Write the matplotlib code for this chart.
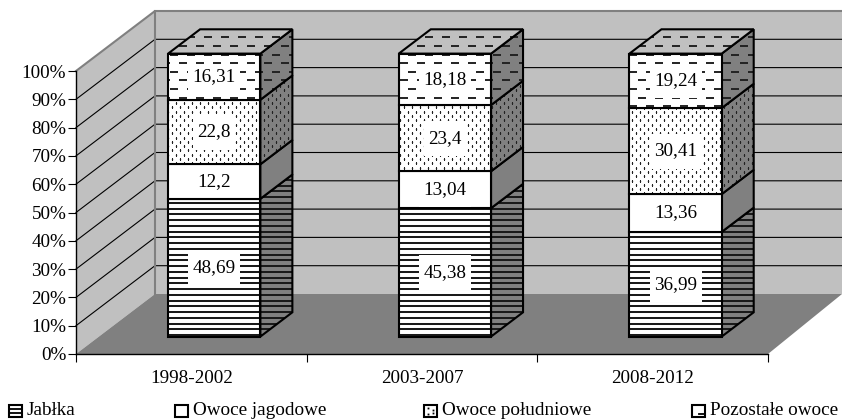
import numpy as np
import matplotlib
matplotlib.use("Agg")
import matplotlib.pyplot as plt
from matplotlib.patches import Polygon, Rectangle
from matplotlib.transforms import Affine2D

periods = ["1998-2002", "2003-2007", "2008-2012"]
series_names = ["Jabłka", "Owoce jagodowe", "Owoce południowe", "Pozostałe owoce"]
jablka = [48.69, 45.38, 36.99]
jagodowe = [12.2, 13.04, 13.36]
poludniowe = [22.8, 23.4, 30.41]
pozostale = [16.31, 18.18, 19.24]
value_text = [["48,69", "45,38", "36,99"], ["12,2", "13,04", "13,36"],
              ["22,8", "23,4", "30,41"], ["16,31", "18,18", "19,24"]]
series = [jablka, jagodowe, poludniowe, pozostale]
patterns = ["lines", "none", "dots", "dashes"]

W, H = 842, 420
plt.rcParams["font.family"] = ["Liberation Serif", "DejaVu Serif"]
FS = 13.8
fig = plt.figure(figsize=(W / 100, H / 100), dpi=100)
ax = fig.add_axes([76 / W, (H - 354) / H, 692 / W, 283 / H])
ax.set_xlim(0, 3)
ax.set_ylim(0, 100)
ax.patch.set_visible(False)
px = Affine2D().scale(1, -1).translate(0, H)

# oblique projection: depth d in 0..1 moves a point up and to the right
DX = 79 / (692 / 3)
DY = 60 / 2.83
DX_RIGHT = 74 / (692 / 3)
BAR_W = 0.4
D0, D1 = 0.29, 0.695
GRID = "#000000"
WALL = "#C0C0C0"
FLOOR = "#808080"


def P(x, y, d=0.0):
    return (x + d * DX, y + d * DY)


# walls and floor
right = (3 + DX_RIGHT, 100 + DY)
ax.add_patch(Polygon([P(0, 0, 1), P(0, 100, 1), right, (3 + DX_RIGHT, DY)], fc=WALL, ec="none",
                     clip_on=False, zorder=0))
ax.add_patch(Polygon([P(0, 0), P(0, 100), P(0, 100, 1), P(0, 0, 1)], fc=WALL, ec="none",
                     clip_on=False, zorder=0))
ax.add_patch(Polygon([P(0, 0), (3, 0), (3 + DX_RIGHT, DY), P(0, 0, 1)], fc=FLOOR, ec="none",
                     clip_on=False, zorder=0.5))
for g in range(10, 100, 10):
    xs = [0, DX, 3 + DX_RIGHT]
    ys = [g, g + DY, g + DY]
    ax.plot(xs, ys, color=GRID, lw=0.8, clip_on=False, zorder=1)
ax.plot([0, DX, DX], [100, 100 + DY, DY], color="#808080", lw=1.5, clip_on=False, zorder=1.2)
ax.plot([DX, 3 + DX_RIGHT], [100 + DY, 100 + DY], color="#808080", lw=1.5, clip_on=False, zorder=1.2)


def hatch(poly, kind, z):
    """Screen-anchored fill pattern clipped to a face."""
    pts = ax.transData.transform(poly.get_xy())
    pts[:, 1] = H - pts[:, 1]
    x0, x1 = pts[:, 0].min(), pts[:, 0].max()
    y0, y1 = pts[:, 1].min(), pts[:, 1].max()
    arts = []
    if kind == "lines":
        for y in np.arange(np.floor(y0 / 5.75) * 5.75 + 1.5, y1 + 1, 5.75):
            arts += ax.plot([x0, x1], [y, y], color="#1a1a1a", lw=1.45, transform=px, zorder=z,
                            solid_capstyle="butt")
    elif kind == "dashes":
        for y in np.arange(np.floor(y0 / 8.6) * 8.6 + 3, y1 + 1, 8.6):
            row = int(round((y - 3) / 8.6))
            start = np.floor(x0 / 17) * 17 - (8.5 if row % 2 else 0)
            for x in np.arange(start, x1 + 1, 17):
                arts += ax.plot([x, x + 8], [y, y], color="#222222", lw=1.4, transform=px, zorder=z,
                                solid_capstyle="butt")
    elif kind == "dots":
        xs, ys = [], []
        for y in np.arange(np.floor(y0 / 4.3) * 4.3, y1 + 1, 4.3):
            row = int(round(y / 4.3))
            start = np.floor(x0 / 8) * 8 - (4 if row % 2 else 0)
            for x in np.arange(start, x1 + 1, 8):
                xs.append(x)
                ys.append(y)
        arts += ax.plot(xs, ys, ls="none", marker="s", ms=0.95, mew=0, color="#222222", transform=px,
                        zorder=z)
    for a in arts:
        a.set_clip_path(poly)
        a.set_clip_box(None)


def face(corners, color, kind, z):
    poly = Polygon(corners, fc=color, ec="none", clip_on=False, zorder=z)
    ax.add_patch(poly)
    hatch(poly, kind, z + 0.01)
    outline = Polygon(corners, fc="none", ec="black", lw=1.5, clip_on=False, zorder=z + 0.02,
                      joinstyle="miter")
    ax.add_patch(outline)


centers = [0.5, 1.5, 2.5]
for i, c in enumerate(centers):
    l, r = c - BAR_W / 2, c + BAR_W / 2
    bottom = 0.0
    for s, (vals, kind) in enumerate(zip(series, patterns)):
        top = bottom + vals[i]
        z = 3 + s
        face([P(r, bottom, D0), P(r, bottom, D1), P(r, top, D1), P(r, top, D0)], FLOOR, kind, z)
        face([P(l, bottom, D0), P(r, bottom, D0), P(r, top, D0), P(l, top, D0)], "white", kind, z + 0.1)
        if s == len(series) - 1:
            face([P(l, top, D0), P(r, top, D0), P(r, top, D1), P(l, top, D1)], WALL, kind, z + 0.2)
        bottom = top

renderer = fig.canvas.get_renderer()
for i, c in enumerate(centers):
    bottom = 0.0
    for s, vals in enumerate(series):
        xc, yc = P(c, bottom + vals[i] / 2, D0)
        t = ax.text(xc, yc, value_text[s][i], ha="center", va="center", fontsize=FS, zorder=11)
        w = t.get_window_extent(renderer).width + 9
        cx, cy = ax.transData.transform((xc, yc))
        seg_h = vals[i] * 2.83
        h = min(35, seg_h - 3)
        ax.add_patch(Rectangle((cx - w / 2, H - cy - h / 2), w, h, transform=px, fc="white", ec="none",
                               zorder=10))
        bottom += vals[i]

# axes
for side in ["top", "right"]:
    ax.spines[side].set_visible(False)
for side in ["left", "bottom"]:
    ax.spines[side].set_linewidth(1.0)
    ax.spines[side].set_zorder(2)
ax.set_yticks(range(0, 101, 10))
ax.set_yticklabels([f"{v}%" for v in range(0, 101, 10)], fontsize=FS)
ax.set_xticks([0, 1, 2, 3])
ax.set_xticklabels([])
ax.set_xticks(centers, minor=True)
ax.set_xticklabels(periods, minor=True, fontsize=FS)
ax.tick_params(axis="y", length=5.5, width=0.8, pad=1.5, color="black")
ax.tick_params(axis="x", which="major", length=5.5, width=0.8, color="black")
ax.tick_params(axis="x", which="minor", length=0, pad=11.5)

# legend
leg_x = [9, 175, 424, 692]
for x, name, kind in zip(leg_x, series_names, patterns):
    box = Rectangle((x, 404.5), 13, 12.5, transform=px, fc="white", ec="black", lw=1.5, clip_on=False, zorder=20)
    ax.add_patch(box)
    if kind == "lines":
        for y in (409, 413):
            ax.plot([x, x + 13], [y, y], color="black", lw=1.3, transform=px, clip_on=False, zorder=21)
    elif kind == "dots":
        ax.plot([x + 4, x + 9, x + 4, x + 9], [408, 409.5, 413.5, 412.5], ls="none", marker="s", ms=1.3, mew=0,
                color="black", transform=px, clip_on=False, zorder=21)
    elif kind == "dashes":
        ax.plot([x + 7, x + 12], [413.5, 413.5], color="black", lw=1.3, transform=px, clip_on=False, zorder=21)
    ax.text(x + 18, 415.2, name, transform=px, fontsize=FS, va="baseline", ha="left", clip_on=False, zorder=21)

fig.savefig("out.png", dpi=100)
